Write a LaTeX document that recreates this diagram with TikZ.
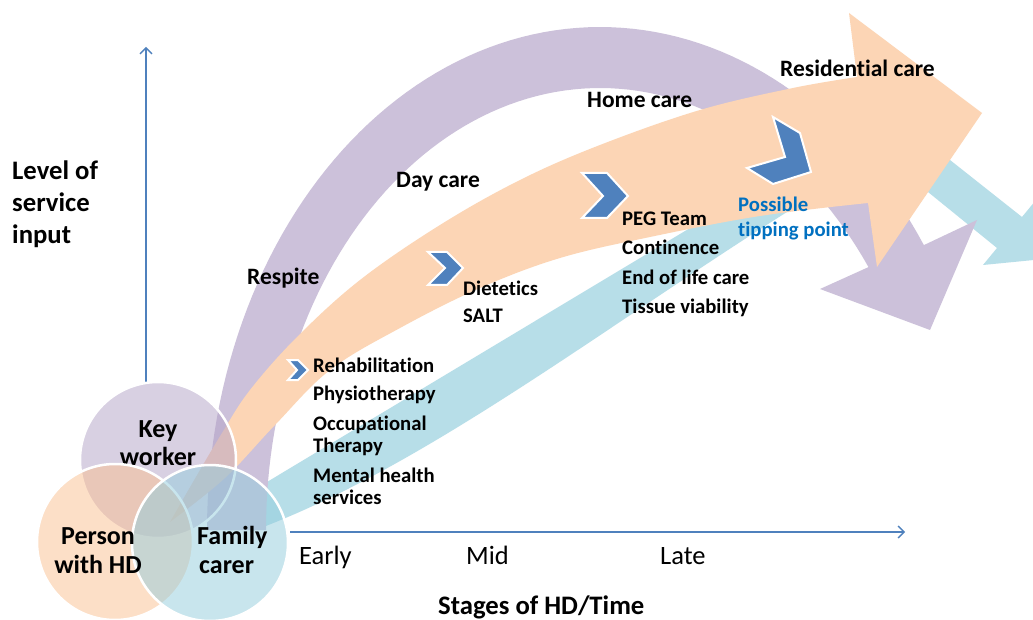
\documentclass[tikz,border=0pt]{standalone}
\usepackage{fontspec}
\setmainfont{Carlito}[Ligatures={NoCommon,NoContextual}]
\usetikzlibrary{arrows.meta}
\definecolor{purpA}{HTML}{CCC1DA}
\definecolor{orA}{HTML}{FCD5B5}
\definecolor{blA}{HTML}{B7DEE8}
\definecolor{purpC}{HTML}{B3A2C7}
\definecolor{orC}{HTML}{FAC090}
\definecolor{blC}{HTML}{93CDDD}
\definecolor{chevc}{HTML}{4F81BD}
\definecolor{axisc}{HTML}{4F81BD}
\definecolor{tipc}{HTML}{0070C0}
\begin{document}
\begin{tikzpicture}[x=1pt,y=-1pt,
  venn/.style={circle, draw=white, line width=2.5pt, minimum size=156pt, inner sep=0pt, fill opacity=0.5},
  chevron/.style={fill=chevc, draw=white, line width=2pt, line join=miter},
  axisline/.style={draw=axisc, line width=1.3pt, -{Straight Barb[length=6pt,width=12pt]}},
  biglbl/.style={font=\fontsize{26.7}{32}\selectfont\bfseries, anchor=base west, inner sep=0pt},
  svclbl/.style={font=\fontsize{23.5}{28}\selectfont\bfseries, anchor=base west, inner sep=0pt},
  itemlbl/.style={font=\fontsize{20.7}{24}\selectfont\bfseries, anchor=base west, inner sep=0pt},
  tiplbl/.style={font=\fontsize{20.7}{24}\selectfont\bfseries, anchor=base west, inner sep=0pt, text=tipc},
  vennlbl/.style={font=\fontsize{26}{29}\selectfont\bfseries, inner sep=0pt},
  stagelbl/.style={font=\fontsize{26.5}{30}\selectfont, anchor=base west, inner sep=0pt}
]
\clip (0,0) rectangle (1033,620);
\fill[white] (0,0) rectangle (1033,620);

% blue arrow
\fill[blA] (250,492) -- (267,482) -- (780,174) .. controls (850,132) and (900,120) .. (950,160)
  -- (1022,217) -- (1036,200) -- (1044,259) -- (983,265) -- (997,248) -- (928,192)
  .. controls (900,169) and (840,178) .. (787,212)
  .. controls (600,330) and (420,470) .. (250,532) -- cycle;

% purple arrow
\fill[purpA] plot[domain=180:34.5, samples=90] ({600+393*cos(\x)},{530-503*sin(\x)})
  -- (977,220) -- (930,330) -- (820,289)
  -- plot[domain=36.5:180, samples=90] ({600+334*cos(\x)},{530-442*sin(\x)}) -- cycle;

% orange arrow
\fill[orA] plot[smooth, tension=0.6] coordinates {(170,522) (193,482) (222,433) (250,390) (297,337) (360,280) (440,225) (520,180) (600,145) (700,110) (793,88) (857,77)}
  -- (849,13) -- (982,113) -- (877,267) -- (868,203)
  -- plot[smooth, tension=0.6] coordinates {(868,203) (760,216) (650,237) (560,258) (480,288) (400,328) (330,370) (275,425) (225,478) (170,522)} -- cycle;

% chevrons
\filldraw[chevron] (288,360) -- (298,360) -- (308,370) -- (298,380) -- (288,380) -- (297,370) -- cycle;
\filldraw[chevron] (428,252) -- (447,252) -- (463,268) -- (447,285) -- (428,285) -- (445,268) -- cycle;
\filldraw[chevron] (582,173) -- (607,173) -- (628,196) -- (607,218) -- (582,218) -- (603,196) -- cycle;
\filldraw[chevron] (773,117) -- (800,133) -- (811,172) -- (773,184) -- (747,168) -- (785,157) -- cycle;

% axes
\coordinate (ybot) at (146,383);
\coordinate (ytop) at (146,47);
\coordinate (xleft) at (290,532);
\coordinate (xright) at (905,532);
\draw[axisline] (ybot) -- (ytop);
\draw[axisline] (xleft) -- (xright);

% venn circles
\node[venn, fill=purpC] (kw) at (158,460) {};
\node[vennlbl, anchor=base] (kwa) at (158,437) {Key};
\node[vennlbl, anchor=base] (kwb) at (158,465) {worker};
\node[venn, fill=orC] (ph) at (115,542) {};
\node[venn, fill=blC] (fc) at (210,543) {};
\node[vennlbl, anchor=base] (pha) at (98,544) {Person};
\node[vennlbl, anchor=base] (phb) at (98,573) {with HD};
\node[vennlbl, anchor=base west] (fca) at (197,544) {Family};
\node[vennlbl, anchor=base west] (fcb) at (199,573) {carer};

% axis labels
\node[biglbl] (lv1) at (12,180) {Level of};
\node[biglbl] (lv2) at (12,212) {service};
\node[biglbl] (lv3) at (12,244) {input};
\node[stagelbl] (early) at (299,564) {Early};
\node[stagelbl] (mid) at (466,564) {Mid};
\node[stagelbl] (late) at (660,564) {Late};
\node[biglbl] (stages) at (438,614) {Stages of HD/Time};

% service labels
\node[svclbl] (resp) at (247,284) {Respite};
\node[svclbl] (day) at (396,188) {Day care};
\node[svclbl] (home) at (587,108) {Home care};
\node[svclbl] (resid) at (780,77) {Residential care};

% items
\node[itemlbl] (i1) at (313,372) {Rehabilitation};
\node[itemlbl] (i2) at (313,400) {Physiotherapy};
\node[itemlbl] (i3) at (313,430) {Occupational};
\node[itemlbl] (i3b) at (313,452) {Therapy};
\node[itemlbl] (i4) at (313,482) {Mental health};
\node[itemlbl] (i4b) at (313,504) {services};
\node[itemlbl] (d1) at (463,295) {Dietetics};
\node[itemlbl] (d2) at (463,323) {SALT};
\node[itemlbl] (p1) at (622,226) {PEG Team};
\node[itemlbl] (p2) at (622,255) {Continence};
\node[itemlbl] (p3) at (622,284) {End of life care};
\node[itemlbl] (p4) at (622,313) {Tissue viability};
\node[tiplbl] (t1) at (738,212) {Possible};
\node[tiplbl] (t2) at (738,237) {tipping point};
\end{tikzpicture}
\end{document}
